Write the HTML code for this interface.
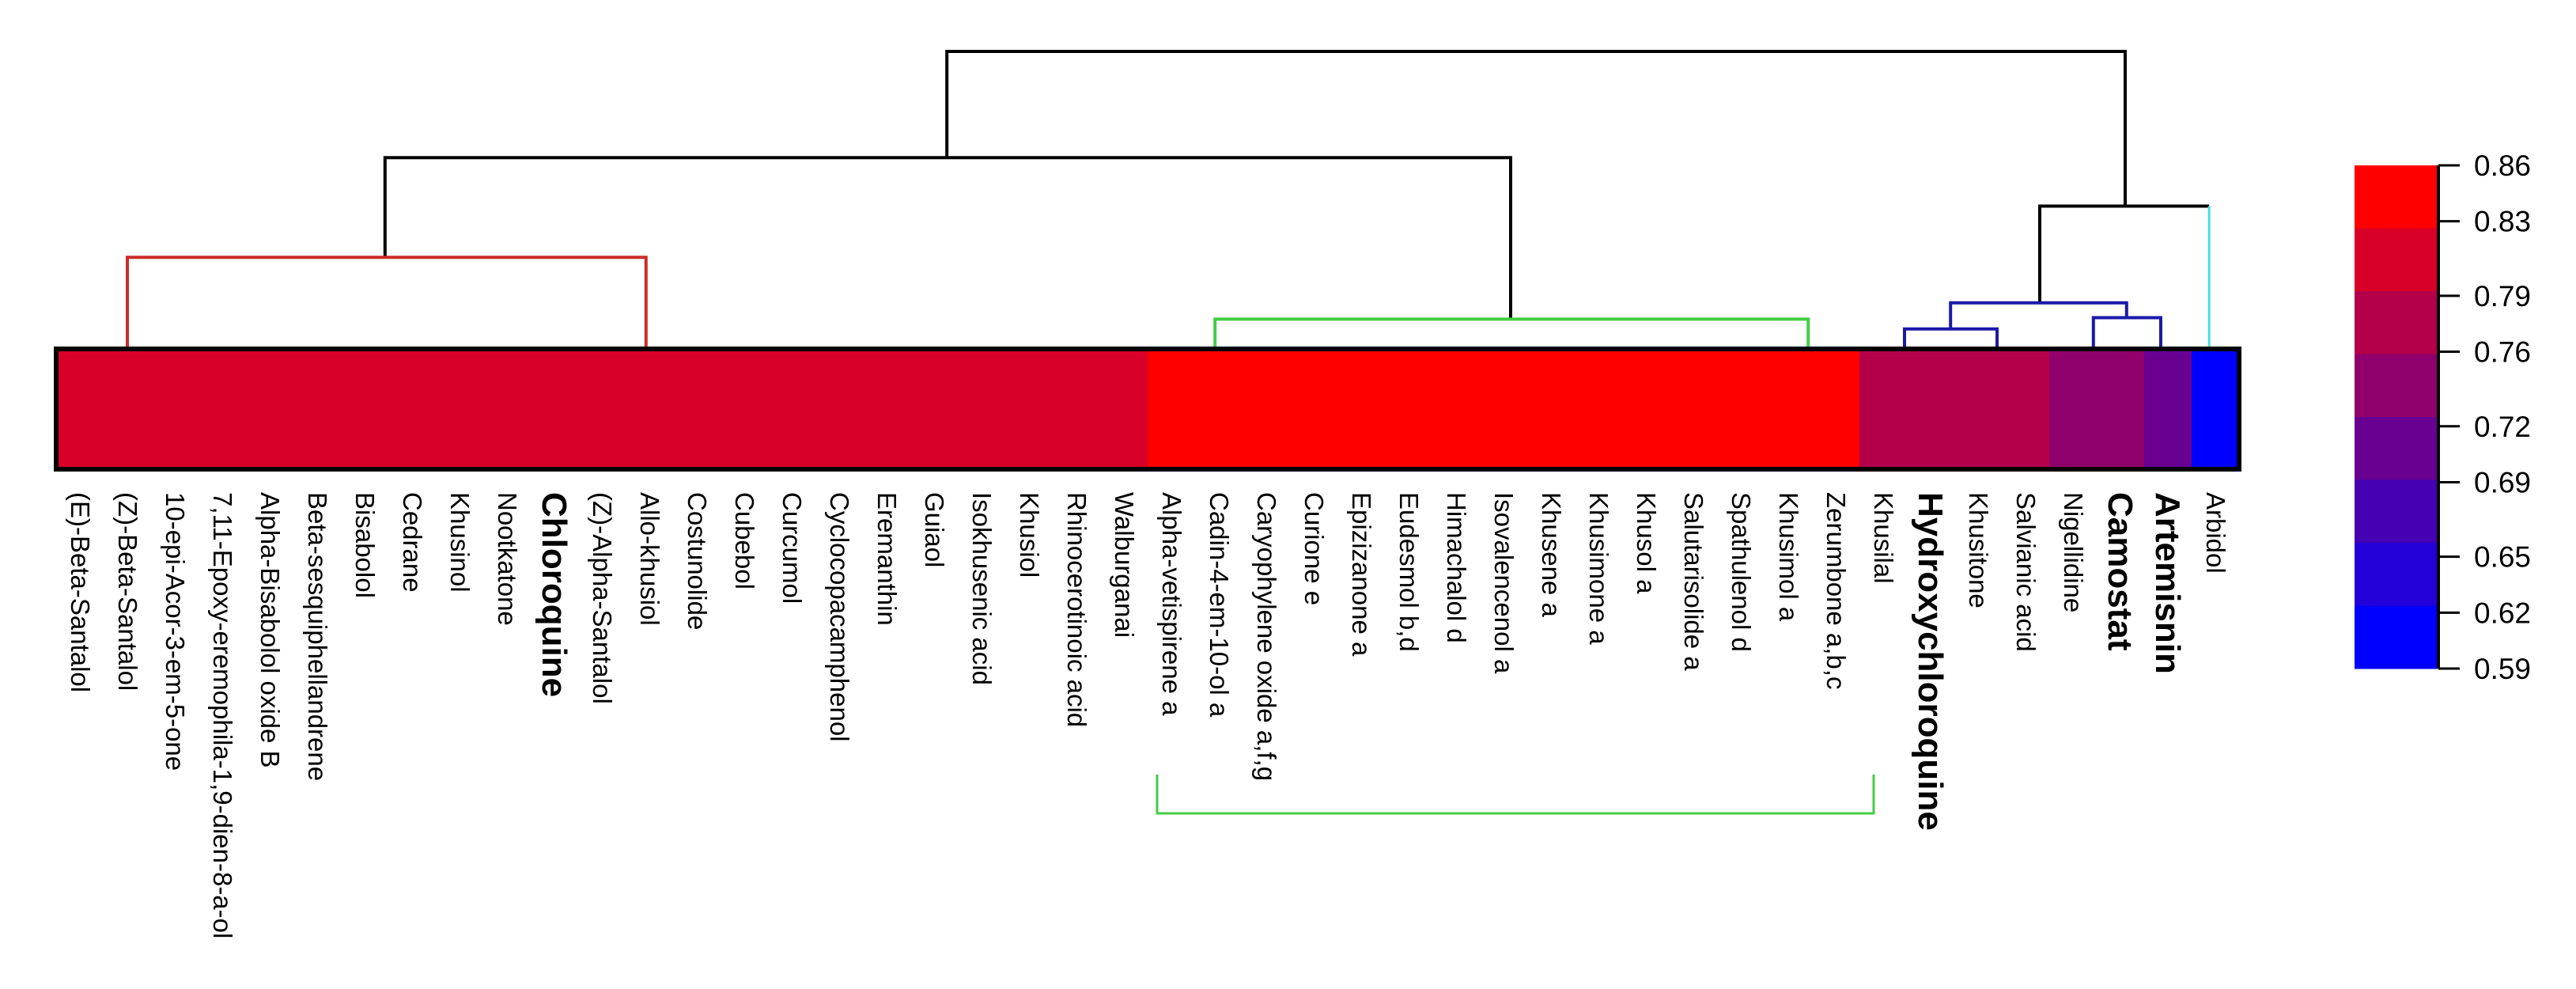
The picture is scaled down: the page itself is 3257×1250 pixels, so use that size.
<!DOCTYPE html>
<html><head><meta charset="utf-8"><style>
html,body{margin:0;padding:0;background:#fff;}
svg{display:block;font-family:"Liberation Sans",sans-serif;}
</style></head><body>
<svg id="chart" width="3257" height="1250" viewBox="0 0 3257 1250">
<g id="dendro"></g>
<g id="cells"></g>
<g id="labels"></g>
<g id="legend"></g>
</svg>
<script>
const categories = ["(E)-Beta-Santalol","(Z)-Beta-Santalol","10-epi-Acor-3-em-5-one","7,11-Epoxy-eremophila-1,9-dien-8-a-ol","Alpha-Bisabolol oxide B","Beta-sesquiphellandrene","Bisabolol","Cedrane","Khusinol","Nootkatone","Chloroquine","(Z)-Alpha-Santalol","Allo-khusiol","Costunolide","Cubebol","Curcumol","Cyclocopacamphenol","Eremanthin","Guiaol","Isokhusenic acid","Khusiol","Rhinocerotinoic acid","Walburganai","Alpha-vetispirene  a","Cadin-4-em-10-ol  a","Caryophylene oxide  a,f,g","Curione   e","Epizizanone  a","Eudesmol  b,d","Himachalol  d","Isovalencenol  a","Khusene  a","Khusimone  a","Khusol  a","Salutarisolide  a","Spathulenol  d","Khusimol  a","Zerumbone  a,b,c","Khusilal","Hydroxychloroquine","Khusitone","Salvianic acid","Nigellidine","Camostat","Artemisnin","Arbidol"];
const boldNames = ["Chloroquine","Hydroxychloroquine","Camostat","Artemisnin"];
const values = [0.81,0.81,0.81,0.81,0.81,0.81,0.81,0.81,0.81,0.81,0.81,0.81,0.81,0.81,0.81,0.81,0.81,0.81,0.81,0.81,0.81,0.81,0.81,0.85,0.85,0.85,0.85,0.85,0.85,0.85,0.85,0.85,0.85,0.85,0.85,0.85,0.85,0.85,0.78,0.78,0.78,0.78,0.74,0.74,0.70,0.60];
const tickLabels = ["0.86","0.83","0.79","0.76","0.72","0.69","0.65","0.62","0.59"];
const bandColors = ["#ff0000","#d80026","#b4004a","#90006c","#680092","#4400b2","#2400d8","#0000ff"];
// dendrogram links (positions in leaf-index units, heights 0..1)
const linkLeft = [18.27, 6.43, 1.0, 23.92, 41.3, 39.42, 38.45, 42.43];
const linkRight = [43.1, 30.15, 11.93, 36.42, 44.87, 43.13, 40.4, 43.85];
const linkHeight = [1.0, 0.643, 0.308, 0.10, 0.48, 0.155, 0.067, 0.105];
const linkLeftChild = [0.643, 0.308, 0, 0, 0.155, 0.067, 0, 0];
const linkRightChild = [0.48, 0.10, 0, 0, 0.48, 0.105, 0, 0];
const linkColors = ["#000","#000","#cc2a2a","#44cc44","#000","#1a1aa8","#1a1aa8","#1a1aa8"];

const NS="http://www.w3.org/2000/svg";
const x0=101, step=60, hmTop=441, hmBot=593, dTop=65;
const xPos = i => x0 + step*i;
const yH = h => hmTop - h*(hmTop-dTop);
const vmin=0.59, vmax=0.86, barTop=209, barBot=845, barX=2977, barW=106;
const yV = v => barTop + (vmax-v)/(vmax-vmin)*(barBot-barTop);
function colorOf(v){let b=Math.floor((vmax-v)/(vmax-vmin)*8);b=Math.max(0,Math.min(7,b));return bandColors[b];}
function mk(tag,attrs,parent){const e=document.createElementNS(NS,tag);for(const k in attrs)e.setAttribute(k,attrs[k]);parent.appendChild(e);return e;}

const cells=document.getElementById('cells');
values.forEach((v,i)=>{
  const r=mk('rect',{x:xPos(i)-step/2,y:hmTop,width:step+0.5,height:hmBot-hmTop,fill:colorOf(v)},cells);
  
  
});
const border=mk('rect',{x:xPos(0)-step/2,y:hmTop,width:step*values.length,height:hmBot-hmTop,fill:'none',stroke:'#000','stroke-width':6},cells);



const dg=document.getElementById('dendro');
for(let i=0;i<linkLeft.length;i++){
  const xl=xPos(linkLeft[i]), xr=xPos(linkRight[i]), y=yH(linkHeight[i]);
  const p=mk('path',{d:`M${xl},${yH(linkLeftChild[i])}V${y}H${xr}V${yH(linkRightChild[i])}`,fill:'none',stroke:linkColors[i],'stroke-width':4},dg);
  
  
}
const cy=mk('line',{x1:xPos(44.87),x2:xPos(44.87),y1:yH(0.48),y2:hmTop,stroke:'#44dddd','stroke-width':3},dg);



const lg=document.getElementById('labels');
categories.forEach((c,i)=>{
  const isBold=boldNames.includes(c);
  const fs=isBold?44:33;
  const t=mk('text',{x:0,y:0,transform:`translate(${xPos(i)-(isBold?15:11)},622) rotate(90)`,'font-size':fs,'font-weight':isBold?'bold':'normal',fill:'#000','xml:space':'preserve'},lg);
  t.textContent=c;
  
  
});
const br=mk('path',{d:`M${xPos(22.7)},979V1028H${xPos(37.8)}V979`,fill:'none',stroke:'#44cc44','stroke-width':3},lg);



const leg=document.getElementById('legend');
bandColors.forEach((c,i)=>{
  const y1=barTop+i*(barBot-barTop)/8;
  const r=mk('rect',{x:barX,y:y1,width:barW,height:(barBot-barTop)/8+0.5,fill:c},leg);
  
  
});
const ax=mk('line',{x1:barX+barW,x2:barX+barW,y1:barTop,y2:barBot,stroke:'#000','stroke-width':4},leg);


tickLabels.forEach(l=>{
  const y=yV(parseFloat(l));
  const tk=mk('line',{x1:barX+barW,x2:barX+barW+27,y1:y,y2:y,stroke:'#000','stroke-width':3},leg);
  
  
  const t=mk('text',{x:3128,y:y+13,'font-size':37,fill:'#000'},leg);
  t.textContent=l;
  
  
});
</script>
</body></html>
